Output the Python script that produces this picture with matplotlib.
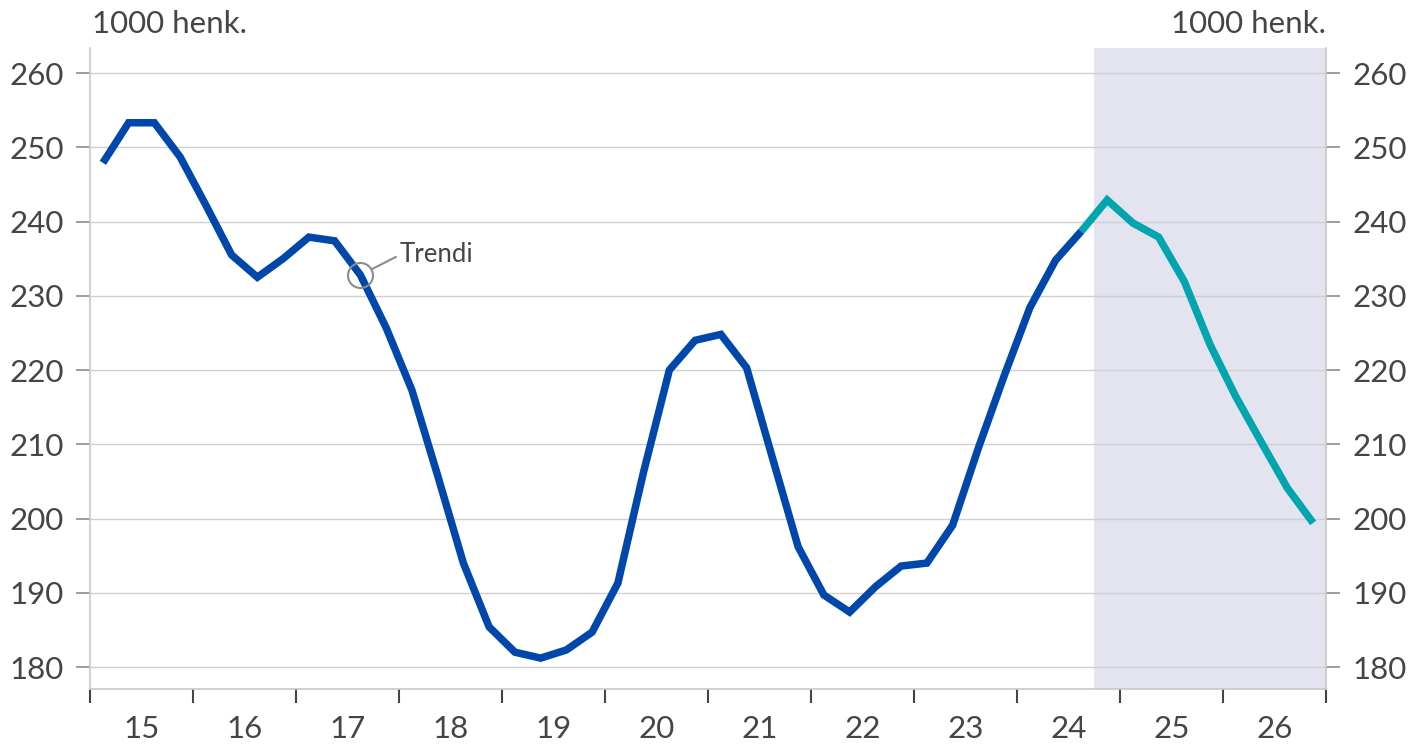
import numpy as np
import matplotlib.pyplot as plt

plt.rcParams["font.family"] = ["Lato", "DejaVu Sans"]

# trend, 1000 persons, quarterly 2015Q1 - 2026Q4
years = ["15", "16", "17", "18", "19", "20", "21", "22", "23", "24", "25", "26"]
trend = [
    247.9, 253.3, 253.3, 248.7,
    242.2, 235.5, 232.5, 235.0,
    237.9, 237.4, 232.8, 225.7,
    217.3, 205.8, 194.0, 185.4,
    182.0, 181.2, 182.3, 184.7,
    191.3, 206.3, 220.0, 224.0,
    224.8, 220.3, 208.2, 196.2,
    189.7, 187.4, 190.8, 193.6,
    194.0, 199.1, 209.5, 219.2,
    228.4, 234.8, 238.7, 242.9,
    239.8, 237.9, 231.9, 223.4,
    216.4, 210.2, 204.1, 199.4,
]
last_actual = 38  # 2024Q3, forecast after this
trend_label_idx = 10  # 2017Q3

BLUE = "#0047AB"
TEAL = "#00A5AF"
SHADE = "#E4E4F0"
TXT = "#454545"
GRID = "#CFCFCF"

q = np.arange(len(trend))
vals = np.array(trend)

fig = plt.figure(figsize=(14.11, 7.45), dpi=100)
ax = fig.add_axes([90 / 1411, 1 - 689 / 745, 1236 / 1411, 641 / 745])

ax.axvspan(last_actual + 0.5, len(trend) - 0.5, color=SHADE, lw=0, zorder=0.2)

ax.plot(q[:last_actual + 1], vals[:last_actual + 1], color=BLUE, lw=5.4,
        solid_capstyle="butt", solid_joinstyle="miter", zorder=3)
ax.plot(q[last_actual:], vals[last_actual:], color=TEAL, lw=5.4,
        solid_capstyle="butt", solid_joinstyle="miter", zorder=3)

# "Trendi" callout
ax.plot(q[trend_label_idx], vals[trend_label_idx], "o", ms=18, mfc="none",
        mec="#8C8C8C", mew=1.5, zorder=4)
ax.annotate("Trendi", xy=(q[trend_label_idx], vals[trend_label_idx]),
            xytext=(28.5, 14.5), textcoords="offset points",
            ha="left", va="center", fontsize=18.5, color=TXT,
            arrowprops=dict(arrowstyle="-", color="#8C8C8C", lw=1.5,
                            shrinkA=1, shrinkB=9, relpos=(0, 0.5)))

ax.set_xlim(-0.5, len(trend) - 0.5)
ax.set_ylim(177.04, 263.37)

ax.set_yticks(np.arange(180, 261, 10))
ax.grid(axis="y", color=GRID, lw=1)
ax.set_axisbelow(True)

year_edges = np.arange(0, len(trend) + 1, 4) - 0.5
ax.set_xticks(year_edges)
ax.set_xticklabels([])
ax.set_xticks(year_edges[:-1] + 2, minor=True)
ax.set_xticklabels(years, minor=True)
ax.tick_params(axis="x", which="major", length=10, width=1.5, color=TXT)
ax.tick_params(axis="x", which="minor", length=0, pad=19, labelsize=22.5,
               labelcolor=TXT)
ax.tick_params(axis="y", length=10, width=1.2, color="#8C8C8C", labelsize=22.5,
               labelcolor=TXT, right=True, labelright=True)
ax.tick_params(axis="y", which="major", pad=9)

for side in ["left", "right", "bottom"]:
    ax.spines[side].set_color("#C8C8C8")
    ax.spines[side].set_linewidth(1.2)
ax.spines["top"].set_visible(False)

fig.text(92 / 1411, 1 - 24 / 745, "1000 henk.", ha="left", va="center",
         fontsize=22.5, color=TXT)
fig.text(1326 / 1411, 1 - 24 / 745, "1000 henk.", ha="right", va="center",
         fontsize=22.5, color=TXT)

fig.savefig("out.png", dpi=100)
